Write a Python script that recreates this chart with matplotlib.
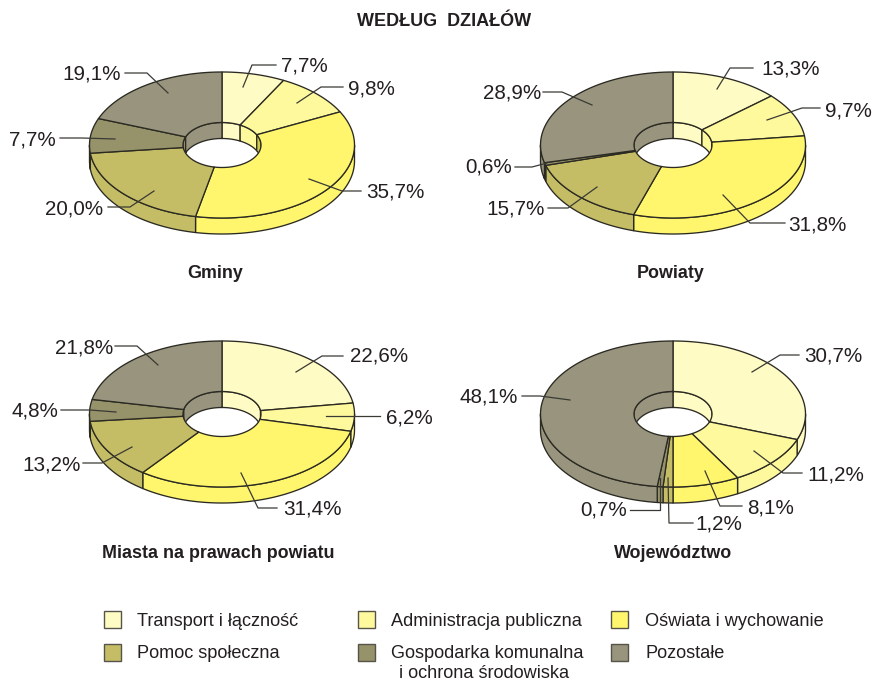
import numpy as np
import matplotlib.pyplot as plt
from matplotlib.patches import Polygon, Rectangle, Ellipse

plt.rcParams["font.family"] = ["Liberation Sans", "DejaVu Sans"]

# Data
categories = [
    "Transport i łączność",
    "Administracja publiczna",
    "Oświata i wychowanie",
    "Pomoc społeczna",
    "Gospodarka komunalna\ni ochrona środowiska",
    "Pozostałe",
]
gminy = [7.7, 9.8, 35.7, 20.0, 7.7, 19.1]
powiaty = [13.3, 9.7, 31.8, 15.7, 0.6, 28.9]
miasta = [22.6, 6.2, 31.4, 13.2, 4.8, 21.8]
wojewodztwo = [30.7, 11.2, 8.1, 1.2, 0.7, 48.1]

# Styles
colors = ["#FFFBC4", "#FFF99E", "#FFF66E", "#C5BD66", "#96926A", "#98947E"]
inner_colors = ["#FFFBC4", "#FFF99E", "#D2CA48", "#A8A258", "#96926A", "#98947E"]
line_color = "#2B2A22"
leader_color = "#3A3A34"
text_color = "#231F20"

# Geometry, in pixels
RX, RY = 132.5, 73
HOLE_RX, HOLE_RY = 39, 22.5
DEPTH = 16

# name, values, centre, title position, then per slice: leader points and label anchor
charts = [
    ("Gminy", gminy, (222, 145), (215, 273),
     [[(243, 87), (252, 65), (276, 65)], [(297, 103), (321, 87), (343, 87)],
      [(309, 179), (342, 191), (361, 191)], [(154, 191), (130, 207), (108, 207)],
      [(115, 139), (82, 138), (60, 138)], [(168, 93), (147, 73), (125, 73)]],
     [(281, 66, "left"), (348, 89, "left"), (366, 192, "left"),
      (103, 209, "right"), (56, 140, "right"), (121, 74, "right")]),
    ("Powiaty", powiaty, (673, 145), (671, 273),
     [[(717, 89), (730, 68), (753, 68)], [(767, 120), (802, 108), (820, 108)],
      [(723, 195), (750, 223), (785, 223)], [(597, 187), (568, 208), (548, 208)],
      [(547, 163), (532, 167), (515, 167)], [(592, 105), (562, 92), (543, 92)]],
     [(761, 69, "left"), (825, 111, "left"), (788, 225, "left"),
      (545, 209, "right"), (512, 167, "right"), (541, 93, "right")]),
    ("Miasta na prawach powiatu", miasta, (222, 414), (218, 553),
     [[(296, 372), (322, 356), (343, 356)], [(326, 416), (380, 416)],
      [(241, 473), (258, 508), (277, 508)], [(132, 447), (102, 463), (83, 463)],
      [(116, 412), (90, 410), (61, 410)], [(158, 365), (137, 346), (115, 346)]],
     [(350, 356, "left"), (386, 418, "left"), (283, 509, "left"),
      (81, 465, "right"), (58, 411, "right"), (113, 348, "right")]),
    ("Województwo", wojewodztwo, (673, 414), (673, 553),
     [[(752, 372), (780, 355), (799, 355)], [(754, 451), (783, 473), (802, 473)],
      [(705, 471), (720, 506), (742, 506)], [(668, 478), (669, 523), (693, 523)],
      [(660, 478), (660, 510), (630, 510)], [(570, 400), (540, 396), (522, 396)]],
     [(804, 356, "left"), (807, 475, "left"), (747, 508, "left"),
      (695, 524, "left"), (627, 510, "right"), (518, 397, "right")]),
]

# legend: swatch left edge, swatch top, label left edge
legend_slots = [(104, 611, 137), (358, 611, 391), (611, 611, 645),
                (104, 644, 137), (358, 644, 391), (611, 644, 645)]


def arc(cx, cy, rx, ry, start, stop):
    """Points on an ellipse; angles in degrees, clockwise from the top."""
    n = max(int(abs(stop - start)) + 2, 2)
    t = np.radians(np.linspace(start, stop, n))
    return np.column_stack([cx + rx * np.sin(t), cy - ry * np.cos(t)])


def clip_range(start, stop, low, high):
    return max(start, low), min(stop, high)


def add_poly(ax, points, color, zorder):
    ax.add_patch(Polygon(points, closed=True, facecolor=color, edgecolor=line_color,
                         linewidth=0.95, joinstyle="round", zorder=zorder))


def draw_ring(ax, values, cx, cy):
    edges = np.concatenate([[0], np.cumsum(values)]) / sum(values) * 360

    # hole
    ax.add_patch(Ellipse((cx, cy), 2 * HOLE_RX, 2 * HOLE_RY, facecolor="white",
                         edgecolor="none", zorder=1))

    for i in range(len(values)):
        start, stop = edges[i], edges[i + 1]

        # outer wall, front half only
        a, b = clip_range(start, stop, 90, 270)
        if b > a:
            top = arc(cx, cy, RX, RY, a, b)
            bottom = arc(cx, cy + DEPTH, RX, RY, b, a)
            add_poly(ax, np.vstack([top, bottom]), colors[i], 2)

        # inner wall, back half only
        for low, high in [(0, 90), (270, 360)]:
            a, b = clip_range(start, stop, low, high)
            if b > a:
                top = arc(cx, cy, HOLE_RX, HOLE_RY, a, b)
                bottom = arc(cx, cy + DEPTH, HOLE_RX, HOLE_RY, b, a)
                add_poly(ax, np.vstack([top, bottom]), inner_colors[i], 2)

    # top surface goes over the walls
    for i in range(len(values)):
        start, stop = edges[i], edges[i + 1]
        outer = arc(cx, cy, RX, RY, start, stop)
        inner = arc(cx, cy, HOLE_RX, HOLE_RY, stop, start)
        add_poly(ax, np.vstack([outer, inner]), colors[i], 3)


fig = plt.figure(figsize=(8.72, 6.81), dpi=100)
ax = fig.add_axes([0, 0, 1, 1])
ax.set_xlim(0, 872)
ax.set_ylim(681, 0)
ax.axis("off")

ax.text(444, 22, "WEDŁUG  DZIAŁÓW", fontsize=13, fontweight="bold",
        ha="center", va="center", color=text_color)

for name, values, (cx, cy), (tx, ty), leaders, anchors in charts:
    draw_ring(ax, values, cx, cy)
    ax.text(tx, ty, name, fontsize=12.9, fontweight="bold", ha="center", va="center",
            color=text_color)
    for value, leader, (lx, ly, side) in zip(values, leaders, anchors):
        xs, ys = zip(*leader)
        ax.plot(xs, ys, color=leader_color, linewidth=0.9, zorder=4)
        label = f"{value:.1f}%".replace(".", ",")
        ax.text(lx, ly, label, fontsize=14.9, ha=side, va="center", color=text_color,
                zorder=5)

for label, color, (sx, sy, lx) in zip(categories, colors, legend_slots):
    ax.add_patch(Rectangle((sx, sy), 17, 17, facecolor=color, edgecolor="#55534a",
                           linewidth=1.0))
    first, *rest = label.split("\n")
    ax.text(lx, sy + 10, first, fontsize=13.1, ha="left", va="center", color=text_color)
    if rest:
        ax.text(lx + 93, sy + 29, rest[0], fontsize=13.1, ha="center", va="center",
                color=text_color)

fig.savefig("out.png", dpi=100)
